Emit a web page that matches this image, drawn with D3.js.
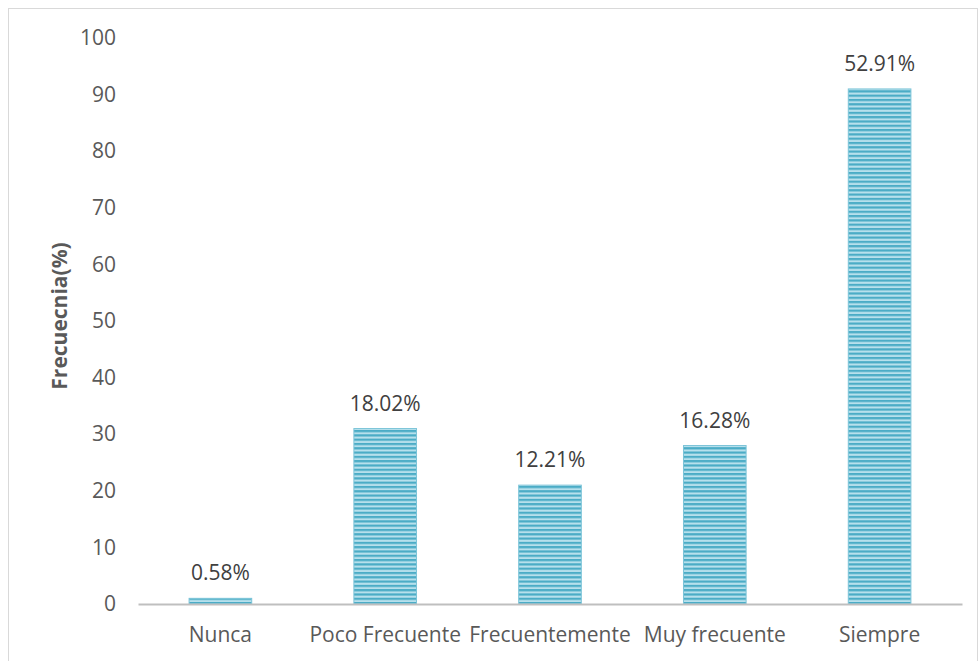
<!DOCTYPE html>
<html>
<head>
<meta charset="utf-8">
<script src="https://cdn.jsdelivr.net/npm/d3@7"></script>
<style>
  body { margin: 0; background: #fff; }
  text { font-family: "Open Sans", "Noto Sans", sans-serif; }
</style>
</head>
<body>
<div id="chart"></div>
<script>
// datos
var categorias = ["Nunca", "Poco Frecuente", "Frecuentemente", "Muy frecuente", "Siempre"];
var valores = [1, 31, 21, 28, 91];
var etiquetas = ["0.58%", "18.02%", "12.21%", "16.28%", "52.91%"];
var ticksY = [0, 10, 20, 30, 40, 50, 60, 70, 80, 90, 100];

var width = 980, height = 661;
var margin = {top: 38, right: 18, bottom: 57, left: 138};

var svg = d3.select("#chart")
    .append("svg")
    .attr("width", width)
    .attr("height", height);

// marco exterior
svg.append("rect")
    .attr("x", 8.5)
    .attr("y", 8.5)
    .attr("width", 969)
    .attr("height", 660)
    .style("fill", "none")
    .style("stroke", "#d9d9d9")
    .style("stroke-width", "1px");

// patron de rayas horizontales
var defs = svg.append("defs");
var pat = defs.append("pattern")
    .attr("id", "rayas")
    .attr("patternUnits", "userSpaceOnUse")
    .attr("width", 8)
    .attr("height", 4.3);
pat.append("rect")
    .attr("width", 8).attr("height", 4.3)
    .style("fill", "#b7e0ec");
pat.append("rect")
    .attr("width", 8).attr("height", 2.2)
    .style("fill", "#4bacc6");

var x = d3.scaleBand()
    .domain(categorias)
    .range([margin.left, width - margin.right])
    .paddingInner(0.62)
    .paddingOuter(0.31);

var y = d3.scaleLinear()
    .domain([0, 100])
    .range([height - margin.bottom, margin.top]);

// etiquetas eje y
var yAxis = d3.axisLeft(y).tickValues(ticksY).tickSize(0).tickPadding(0);
var gy = svg.append("g")
    .attr("transform", "translate(116,0)")
    .call(yAxis);
gy.select(".domain").remove();
gy.selectAll("text")
    .style("font-size", "21px")
    .style("fill", "#595959")
    .style("font-family", "'Open Sans', sans-serif");

// barras
svg.selectAll(".bar")
    .data(valores)
    .enter()
    .append("rect")
    .attr("class", "bar")
    .attr("x", function (d, i) { return x(categorias[i]); })
    .attr("y", function (d) { return y(d); })
    .attr("width", x.bandwidth())
    .attr("height", function (d) { return y(0) - y(d); })
    .style("fill", "url(#rayas)")
    .style("stroke", "#7cc4d8")
    .style("stroke-width", "1px");

// eje x
var xAxis = d3.axisBottom(x).tickSize(0).tickPadding(23);
var gx = svg.append("g")
    .attr("transform", "translate(0," + y(0) + ")")
    .call(xAxis);
gx.select(".domain")
    .style("stroke", "#bfbfbf")
    .style("stroke-width", "2px");
gx.selectAll("text")
    .style("font-size", "21px")
    .style("fill", "#595959")
    .style("font-family", "'Open Sans', sans-serif");

// etiquetas de valor
svg.selectAll(".valor")
    .data(valores)
    .enter()
    .append("text")
    .attr("class", "valor")
    .attr("x", function (d, i) { return x(categorias[i]) + x.bandwidth() / 2; })
    .attr("y", function (d) { return y(d) - 18; })
    .attr("text-anchor", "middle")
    .text(function (d, i) { return etiquetas[i]; })
    .style("font-size", "21px")
    .style("fill", "#404040");

// titulo eje y
svg.append("text")
    .attr("transform", "translate(67," + 316 + ") rotate(-90)")
    .attr("text-anchor", "middle")
    .text("Frecuecnia(%)")
    .style("font-size", "21px")
    .style("font-weight", "bold")
    .style("fill", "#595959");
</script>
</body>
</html>
